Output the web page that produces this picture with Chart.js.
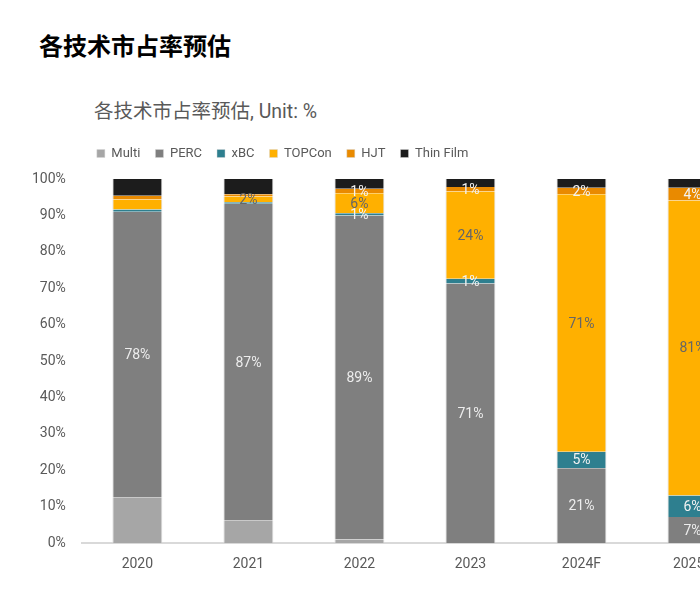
<!DOCTYPE html>
<html><head><meta charset="utf-8">
<script src="https://cdn.jsdelivr.net/npm/chart.js@4/dist/chart.umd.min.js"></script>
<style>
html,body{margin:0;padding:0;width:700px;height:600px;overflow:hidden;background:#fff;}
#wrap{position:relative;width:700px;height:600px;overflow:hidden;}
#t1{position:absolute;left:39px;top:33px;font:bold 24px "Noto Sans CJK SC";color:#000;line-height:1;white-space:nowrap;}
#t2{position:absolute;left:94px;top:102px;font:19.5px Roboto,"Noto Sans CJK SC";color:#595959;line-height:1;white-space:nowrap;}
canvas{position:absolute;left:0;top:0;}
</style></head><body>
<div id="wrap">
<div id="t1">各技术市占率预估</div>
<div id="t2">各技术市占率预估, Unit: %</div>
<canvas id="c" width="760" height="600"></canvas>
</div>
<script>
const categories = ['2020', '2021', '2022', '2023', '2024F', '2025F'];
const seriesNames = ['Multi', 'PERC', 'xBC', 'TOPCon', 'HJT', 'Thin Film'];
const multi    = [12.6, 6.3, 1.0, 0, 0, 0];
const perc     = [78.4, 86.9, 89.0, 71.3, 20.6, 7.2];
const xbc      = [0.6, 0.4, 0.6, 1.3, 4.5, 5.9];
const topcon   = [2.8, 1.6, 5.5, 24.0, 70.7, 81.0];
const hjt      = [1.0, 0.6, 1.2, 1.2, 1.8, 3.5];
const thinFilm = [4.6, 4.2, 2.7, 2.2, 2.4, 2.4];
const yTickLabels = ['0%', '10%', '20%', '30%', '40%', '50%', '60%', '70%', '80%', '90%', '100%'];
const multiLabels    = ['', '', '', '', '', ''];
const percLabels     = ['78%', '87%', '89%', '71%', '21%', '7%'];
const xbcLabels      = ['', '', '1%', '1%', '5%', '6%'];
const topconLabels   = ['', '2%', '6%', '24%', '71%', '81%'];
const hjtLabels      = ['', '', '1%', '1%', '2%', '4%'];
const thinFilmLabels = ['', '', '', '', '', ''];

const colors = ['#A6A6A6', '#7F7F7F', '#2E7F8F', '#FFB000', '#E98A00', '#1C1C1C'];
const labelColors = ['#F2F2F2', '#EDEDED', '#F2F2F2', '#666666', '#F2F2F2', '#F2F2F2'];
const values = [multi, perc, xbc, topcon, hjt, thinFilm];
const labels = [multiLabels, percLabels, xbcLabels, topconLabels, hjtLabels, thinFilmLabels];

const datasets = seriesNames.map((name, k) => ({
  label: name,
  data: values[k],
  backgroundColor: colors[k],
  borderColor: 'rgba(215,215,215,0.9)',
  borderWidth: {left: 1, right: 1, top: 0, bottom: 0},
  borderSkipped: false,
  segLabels: labels[k],
  segLabelColor: labelColors[k],
  categoryPercentage: 1,
  barPercentage: 0.45
}));

const segLabelPlugin = {
  id: 'segLabels',
  afterDatasetsDraw(chart) {
    const ctx = chart.ctx;
    ctx.save();
    ctx.font = '14px Roboto';
    ctx.textAlign = 'center';
    ctx.textBaseline = 'middle';
    chart.data.datasets.forEach((ds, k) => {
      const meta = chart.getDatasetMeta(k);
      meta.data.forEach((el, i) => {
        const t = ds.segLabels[i];
        if (!t) return;
        ctx.fillStyle = ds.segLabelColor;
        ctx.fillText(t, el.x, (el.y + el.base) / 2 + 1);
      });
    });
    ctx.restore();
  }
};

const legendMargin = {
  id: 'legendMargin',
  beforeInit(chart) {
    const orig = chart.legend.fit;
    chart.legend.fit = function () {
      orig.call(this);
      this.height += 9;
    };
  }
};

new Chart(document.getElementById('c'), {
  type: 'bar',
  data: {labels: categories, datasets},
  plugins: [segLabelPlugin, legendMargin],
  options: {
    responsive: false,
    animation: false,
    layout: {padding: {top: 132, left: 24, right: 12, bottom: 22}},
    plugins: {
      tooltip: {enabled: false},
      legend: {
        position: 'top',
        align: 'start',
        fullSize: false,
        labels: {
          boxWidth: 8, boxHeight: 8, padding: 15,
          color: '#595959',
          font: {family: 'Roboto', size: 13}
        }
      }
    },
    scales: {
      x: {
        stacked: true,
        grid: {display: false},
        border: {display: true, color: '#D9D9D9', width: 2},
        ticks: {color: '#595959', font: {family: 'Roboto', size: 14}, padding: 5}
      },
      y: {
        stacked: true,
        min: 0, max: 100,
        grid: {display: false},
        border: {display: false},
        ticks: {
          stepSize: 10,
          color: '#595959',
          font: {family: 'Roboto', size: 14},
          padding: 8,
          callback: (v, i) => yTickLabels[i]
        }
      }
    }
  }
});
</script>
</body></html>
